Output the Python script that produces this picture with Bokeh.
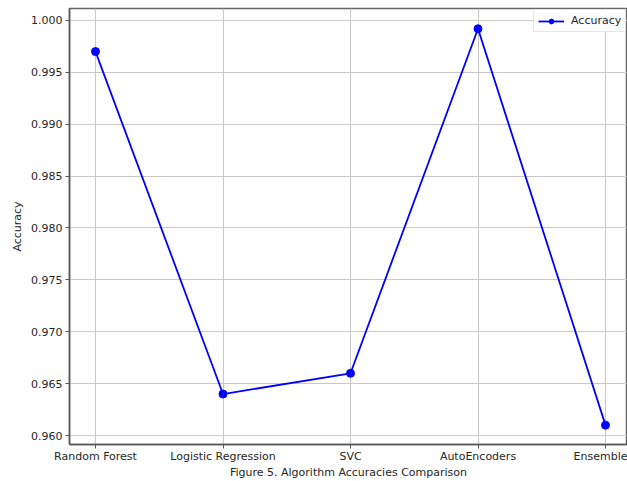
from bokeh.plotting import figure
from bokeh.models import (Range1d, FixedTicker, SingleIntervalTicker, NumeralTickFormatter,
                          Legend, LegendItem, ColumnDataSource)
from bokeh.embed import file_html
from bokeh.resources import INLINE

categories = ["Random Forest", "Logistic Regression", "SVC", "AutoEncoders", "Ensemble"]
accuracy = [0.997, 0.964, 0.966, 0.9992, 0.961]
series_name = "Accuracy"
x_title = "Figure 5. Algorithm Accuracies Comparison"
y_title = "Accuracy"

xs = list(range(len(categories)))
src = ColumnDataSource(dict(x=xs, y=accuracy, name=categories))

FONT = "DejaVu Sans"
TXT = "#262626"

p = figure(width=627, height=481, output_backend="svg", toolbar_location=None,
           x_range=Range1d(-0.204, 4.1725), y_range=Range1d(0.959135, 1.001154),
           min_border_left=69, min_border_right=0, min_border_top=8, min_border_bottom=36)

p.background_fill_color = "white"
p.border_fill_color = "white"
p.outline_line_color = "#666666"
p.outline_line_width = 1.5

# axes
p.xaxis.ticker = FixedTicker(ticks=xs)
p.xaxis.major_label_overrides = {i: c for i, c in enumerate(categories)}
p.yaxis.ticker = SingleIntervalTicker(interval=0.005)
p.yaxis.formatter = NumeralTickFormatter(format="0.000")
for ax in (p.xaxis[0], p.yaxis[0]):
    ax.axis_line_color = "#555555"
    ax.axis_line_width = 1.5
    ax.major_tick_line_color = "#555555"
    ax.major_tick_out = 4
    ax.major_tick_in = 0
    ax.minor_tick_line_color = None
    ax.major_label_text_font = FONT
    ax.major_label_text_font_size = "11px"
    ax.major_label_text_color = TXT
    ax.axis_label_text_font = FONT
    ax.axis_label_text_font_size = "11px"
    ax.axis_label_text_font_style = "normal"
    ax.axis_label_text_color = TXT
p.xaxis.major_label_standoff = 1
p.yaxis.major_label_standoff = 3
p.yaxis.axis_label = y_title
p.yaxis.axis_label_standoff = 4
p.xaxis.axis_label = x_title
p.xaxis.axis_label_standoff = 0

p.grid.grid_line_color = "#c8c8c8"
p.grid.grid_line_width = 1

ln = p.line("x", "y", source=src, line_color="#0000ff", line_width=1.8)
sc = p.scatter("x", "y", source=src, size=8, fill_color="#0000ff", line_color="#0000ff")

legend = Legend(items=[LegendItem(label=series_name, renderers=[ln, sc])],
                location=(464, 412), margin=0, padding=4, spacing=0,
                glyph_width=26, glyph_height=12, label_height=12, label_standoff=7,
                label_text_font=FONT, label_text_font_size="11px", label_text_color=TXT,
                border_line_color="#d0d0d0", border_line_width=1,
                background_fill_color="white", background_fill_alpha=0.9)
p.add_layout(legend)

open("out.html", "w").write(file_html(p, INLINE))
